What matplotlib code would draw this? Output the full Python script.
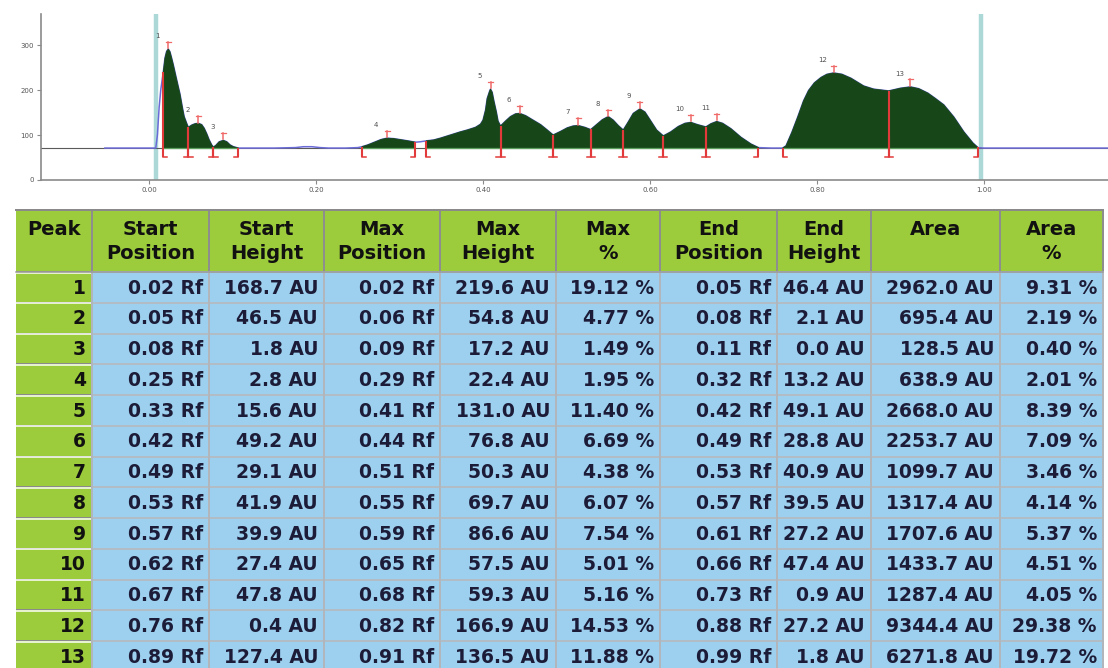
import numpy as np
import matplotlib
matplotlib.use("Agg")
import matplotlib.pyplot as plt
from matplotlib.patches import Rectangle

# ---- densitogram trace: Rf vs height above baseline (AU)
baseline_au = 71
trace_rf = [-0.053, 0.000, 0.008, 0.010, 0.012, 0.014, 0.016,
            0.017, 0.019, 0.021, 0.023, 0.025, 0.027, 0.029, 0.032, 0.035, 0.037, 0.040, 0.042, 0.045,
            0.047, 0.051, 0.055, 0.059, 0.063, 0.066, 0.069, 0.072, 0.075,
            0.077, 0.080, 0.084, 0.089, 0.093, 0.097, 0.101, 0.107,
            0.120, 0.150, 0.175, 0.185, 0.195, 0.205, 0.215, 0.235, 0.250,
            0.255, 0.262, 0.270, 0.278, 0.285, 0.293, 0.300, 0.310, 0.319,
            0.325,
            0.332, 0.341, 0.349, 0.361, 0.373, 0.381, 0.391, 0.397, 0.400, 0.403, 0.405, 0.408, 0.409,
            0.411, 0.413, 0.416, 0.418,
            0.421, 0.427, 0.433, 0.439, 0.444, 0.451, 0.459, 0.469, 0.477,
            0.484, 0.493, 0.501, 0.508, 0.514, 0.522,
            0.529, 0.536, 0.543, 0.550, 0.556, 0.562,
            0.568, 0.574, 0.580, 0.588, 0.594, 0.601, 0.608,
            0.616, 0.625, 0.634, 0.642, 0.649, 0.657,
            0.667, 0.673, 0.680, 0.687, 0.697, 0.709, 0.721,
            0.730, 0.745,
            0.759, 0.763, 0.766, 0.770, 0.777, 0.784, 0.790, 0.797, 0.805, 0.812, 0.820, 0.830, 0.841,
            0.856, 0.868,
            0.886, 0.900, 0.912, 0.922, 0.933, 0.942, 0.952, 0.964, 0.976, 0.987,
            0.993, 1.000, 1.149]
trace_au = [0, 0, 0, 30, 90, 130, 155,
            169, 200, 215, 220, 214, 200, 185, 160, 136, 120, 89, 70, 55,
            46, 51, 54, 55, 52, 44, 32, 18, 7,
            2, 6, 14, 17, 14, 7, 3, 0,
            0, 0, 1, 3, 3, 1, 0, 0, 1,
            3, 7, 13, 19, 22, 21, 19, 16, 13,
            14,
            16, 18, 22, 29, 36, 40, 46, 53, 62, 84, 110, 127, 131,
            124, 105, 80, 60,
            49, 60, 70, 76, 77, 72, 63, 52, 40,
            29, 37, 45, 49, 50, 46,
            41, 52, 63, 70, 62, 50,
            40, 58, 77, 87, 80, 60, 40,
            27, 36, 48, 55, 57, 52,
            47, 54, 59, 55, 43, 24, 9,
            1, 0,
            0, 5, 18, 35, 69, 105, 128, 145, 157, 164, 167, 164, 155,
            138, 131,
            127, 133, 136, 132, 122, 110, 96, 69, 36, 11,
            1, 0, 0]

# peak marks as placed on the trace (Rf)
mark_start = [0.017, 0.047, 0.077, 0.255, 0.332, 0.421, 0.484, 0.529, 0.568, 0.616, 0.667, 0.759, 0.886]
mark_max = [0.023, 0.059, 0.089, 0.285, 0.409, 0.444, 0.514, 0.550, 0.588, 0.649, 0.680, 0.820, 0.912]
mark_end = [0.047, 0.077, 0.107, 0.319, 0.421, 0.484, 0.529, 0.568, 0.616, 0.667, 0.730, 0.886, 0.993]
front_lines = [0.008, 0.996]

# ---- peak table
peaks = list(range(1, 14))
start_pos = [0.02, 0.05, 0.08, 0.25, 0.33, 0.42, 0.49, 0.53, 0.57, 0.62, 0.67, 0.76, 0.89]
start_height = [168.7, 46.5, 1.8, 2.8, 15.6, 49.2, 29.1, 41.9, 39.9, 27.4, 47.8, 0.4, 127.4]
max_pos = [0.02, 0.06, 0.09, 0.29, 0.41, 0.44, 0.51, 0.55, 0.59, 0.65, 0.68, 0.82, 0.91]
max_height = [219.6, 54.8, 17.2, 22.4, 131.0, 76.8, 50.3, 69.7, 86.6, 57.5, 59.3, 166.9, 136.5]
max_pct = [19.12, 4.77, 1.49, 1.95, 11.40, 6.69, 4.38, 6.07, 7.54, 5.01, 5.16, 14.53, 11.88]
end_pos = [0.05, 0.08, 0.11, 0.32, 0.42, 0.49, 0.53, 0.57, 0.61, 0.66, 0.73, 0.88, 0.99]
end_height = [46.4, 2.1, 0.0, 13.2, 49.1, 28.8, 40.9, 39.5, 27.2, 47.4, 0.9, 27.2, 1.8]
area = [2962.0, 695.4, 128.5, 638.9, 2668.0, 2253.7, 1099.7, 1317.4, 1707.6, 1433.7, 1287.4, 9344.4, 6271.8]
area_pct = [9.31, 2.19, 0.40, 2.01, 8.39, 7.09, 3.46, 4.14, 5.37, 4.51, 4.05, 29.38, 19.72]

header_top = ["Peak", "Start", "Start", "Max", "Max", "Max", "End", "End", "Area", "Area"]
header_bot = ["", "Position", "Height", "Position", "Height", "%", "Position", "Height", "", "%"]
x_ticks = [0.0, 0.2, 0.4, 0.6, 0.8, 1.0]
y_ticks = [0, 100, 200, 300]

W, H = 1108, 668
fig = plt.figure(figsize=(W / 100, H / 100), dpi=100)
PX = 0.72  # one pixel in points

GREEN = "#9ccb3b"
BLUE = "#9dd0ee"
FILL = "#174719"
RED = "#e23a3a"

# ---------------- table (pixel coordinates) ----------------
tab = fig.add_axes([0, 0, 1, 1])
tab.set_xlim(0, W)
tab.set_ylim(H, 0)
tab.axis("off")

col_edges = [16, 92, 209, 324, 440, 556, 660, 777, 871, 1000, 1103]
top, head_h, row_h = 210, 62, 30.75
body_top = top + head_h
n = len(peaks)
bottom = body_top + n * row_h

for c in range(len(col_edges) - 1):
    x0, x1 = col_edges[c], col_edges[c + 1]
    tab.add_patch(Rectangle((x0, top), x1 - x0, head_h, facecolor=GREEN, edgecolor="none"))
    tab.add_patch(Rectangle((x0, body_top), x1 - x0, n * row_h,
                            facecolor=GREEN if c == 0 else BLUE, edgecolor="none"))
    xc = (x0 + x1) / 2
    tab.text(xc, top + 25, header_top[c], ha="center", va="baseline",
             fontsize=14, fontweight="bold", color="#111111", family="DejaVu Sans")
    if header_bot[c]:
        tab.text(xc, top + 49, header_bot[c], ha="center", va="baseline",
                 fontsize=14, fontweight="bold", color="#111111", family="DejaVu Sans")

cells = [
    [str(p) for p in peaks],
    [f"{v:.2f} Rf" for v in start_pos],
    [f"{v:.1f} AU" for v in start_height],
    [f"{v:.2f} Rf" for v in max_pos],
    [f"{v:.1f} AU" for v in max_height],
    [f"{v:.2f} %" for v in max_pct],
    [f"{v:.2f} Rf" for v in end_pos],
    [f"{v:.1f} AU" for v in end_height],
    [f"{v:.1f} AU" for v in area],
    [f"{v:.2f} %" for v in area_pct],
]
for c, col in enumerate(cells):
    xr = col_edges[c + 1] - 6
    for r, s in enumerate(col):
        yb = body_top + r * row_h + row_h / 2 + 6.2
        tab.text(xr, yb, s, ha="right", va="baseline", fontsize=13.5, fontweight="bold",
                 color="#111111" if c == 0 else "#1c1c38", family="DejaVu Sans")

# grid lines
for r in range(n + 1):
    y = body_top + r * row_h
    tab.plot([col_edges[1], col_edges[-1]], [y, y], color="#b2bcc4", lw=2 * PX)
    tab.plot([col_edges[0], col_edges[1]], [y - 1, y - 1], color="#8a8a8a", lw=1 * PX)
    tab.plot([col_edges[0], col_edges[1]], [y + 0.5, y + 0.5], color="white", lw=1.5 * PX)
for x in col_edges[1:]:
    tab.plot([x, x], [top, body_top], color="#8e8e8e", lw=2 * PX)
    tab.plot([x, x], [body_top, bottom], color="#b0b6bb", lw=2 * PX)
tab.plot([col_edges[0], col_edges[-1]], [top, top], color="#8a8a8a", lw=2 * PX)
tab.plot([col_edges[0], col_edges[-1]], [body_top, body_top], color="#9a9a9a", lw=1.5 * PX)

# ---------------- densitogram ----------------
ax = fig.add_axes([41 / W, (H - 180) / H, (W - 41) / W, (180 - 14) / H])
ax.set_xlim(-0.1295, 1.1487)
ax.set_ylim(0, 369)

rf = np.array(trace_rf)
yy = baseline_au + np.array(trace_au)
inside = np.zeros(len(rf), dtype=bool)
for s, e in zip(mark_start, mark_end):
    inside |= (rf >= s - 1e-9) & (rf <= e + 1e-9)

for fx in front_lines:
    ax.axvline(fx, color="#acd8d8", lw=3.2, zorder=1)
ax.axhline(baseline_au, color="#5a5a5a", lw=0.8, zorder=1.2)
ax.plot(rf, yy, color="#6b6bd8", lw=1.1, zorder=2)
ax.fill_between(rf, baseline_au, yy, where=inside, color=FILL, lw=0.6, edgecolor=FILL, zorder=3)
ax.hlines([baseline_au] * len(mark_start), mark_start, mark_end, color="#5c9f5c", lw=0.9, zorder=4)

# boundary markers: line up to the trace and a bracket below the baseline
drop = 20
for i in range(len(peaks)):
    for pos, h, side in ((mark_start[i], start_height[i], 1), (mark_end[i], end_height[i], -1)):
        ax.plot([pos, pos], [baseline_au - drop, baseline_au + h], color=RED, lw=1.5, zorder=5,
                solid_capstyle="butt")
        ax.plot([pos, pos + side * 0.005], [baseline_au - drop, baseline_au - drop],
                color=RED, lw=1.1, zorder=5)
    # tick above the maximum
    top_y = baseline_au + max_height[i]
    ax.plot([mark_max[i], mark_max[i]], [top_y + 2, top_y + 16], color="#f06a6a", lw=1.1, zorder=5)
    ax.plot([mark_max[i] - 0.003, mark_max[i] + 0.003], [top_y + 16, top_y + 16],
            color="#f06a6a", lw=0.9, zorder=5)
    ax.text(mark_max[i] - 0.013, top_y + 29, str(peaks[i]), fontsize=5, color="#505050",
            ha="center", va="center", zorder=6)

for sp in ("top", "right"):
    ax.spines[sp].set_visible(False)
for sp in ("left", "bottom"):
    ax.spines[sp].set_color("#8a8a8a")
    ax.spines[sp].set_linewidth(1.2)
ax.set_xticks(x_ticks)
ax.set_xticklabels([f"{v:.2f}" for v in x_ticks])
ax.set_yticks(y_ticks)
ax.tick_params(axis="both", labelsize=5, colors="#8a8a8a", labelcolor="#555555",
               length=3, width=0.8, pad=2)
ax.patch.set_alpha(0)

fig.savefig("out.png", dpi=100)
